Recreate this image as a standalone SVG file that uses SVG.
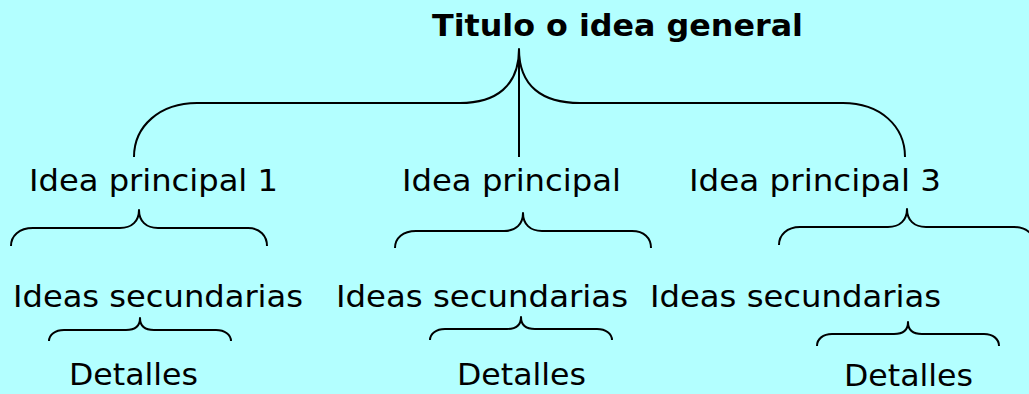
<svg xmlns="http://www.w3.org/2000/svg" width="1029" height="394" viewBox="0 0 1029 394">
<style>
.t{font-family:"DejaVu Sans","Liberation Sans",sans-serif;font-size:31px;fill:#000}
.b{font-weight:bold}
.c{fill:none;stroke:#000;stroke-width:2;stroke-linecap:butt;stroke-linejoin:round}
</style>
<rect width="1029" height="394" fill="#b3ffff"/>
<g id="connectors">
<path class="c" d="M134,157 C134,126 160,103 197,103 L460,103 C496,103 519,86 519,49 C519,86 542,103 580,103 L843,103 C880,103 905,126 905,157"/>
<path class="c" d="M519,49 V157"/>
<path class="c" d="M11,246 C11,236 19,228 33,228 L120,228 C132,228 139,221 139,210 C139,221 146,228 158,228 L248,228 C260,228 267,236 267,246"/>
<path class="c" d="M395,248 C395,238 403,231 416,231 L504,231 C516,231 523,224 523,213 C523,224 530,231 542,231 L632,231 C644,231 651,238 651,248"/>
<path class="c" d="M779,245 C779,235 787,227 800,227 L888,227 C900,227 907,220 907,209 C907,220 914,227 926,227 L1014,227 C1027,227 1035,235 1035,245"/>
<path class="c" d="M49,341 C49,335 55,330 64,330 L126,330 C135,330 140,326 140,318 C140,326 145,330 154,330 L216,330 C225,330 231,335 231,341"/>
<path class="c" d="M430,340 C430,334 436,329 445,329 L507,329 C516,329 521,325 521,317 C521,325 526,329 535,329 L597,329 C606,329 612,334 612,340"/>
<path class="c" d="M817,346 C817,339 823,334 832,334 L894,334 C903,334 908,330 908,322 C908,330 913,334 922,334 L984,334 C993,334 999,339 999,346"/>
</g>
<g id="title"><text class="t b" x="432" y="36" textLength="371" lengthAdjust="spacingAndGlyphs">Titulo o idea general</text></g>
<g id="ip1"><text class="t" x="29" y="191" textLength="249" lengthAdjust="spacingAndGlyphs">Idea principal 1</text></g>
<g id="ip2"><text class="t" x="402" y="191" textLength="219" lengthAdjust="spacingAndGlyphs">Idea principal</text></g>
<g id="ip3"><text class="t" x="689" y="191" textLength="252" lengthAdjust="spacingAndGlyphs">Idea principal 3</text></g>
<g id="is1"><text class="t" x="13" y="307" textLength="290" lengthAdjust="spacingAndGlyphs">Ideas secundarias</text></g>
<g id="is2"><text class="t" x="336" y="307" textLength="292" lengthAdjust="spacingAndGlyphs">Ideas secundarias</text></g>
<g id="is3"><text class="t" x="650" y="307" textLength="291" lengthAdjust="spacingAndGlyphs">Ideas secundarias</text></g>
<g id="d1"><text class="t" x="69" y="385" textLength="129" lengthAdjust="spacingAndGlyphs">Detalles</text></g>
<g id="d2"><text class="t" x="457" y="385" textLength="129" lengthAdjust="spacingAndGlyphs">Detalles</text></g>
<g id="d3"><text class="t" x="844" y="386" textLength="129" lengthAdjust="spacingAndGlyphs">Detalles</text></g>
</svg>
